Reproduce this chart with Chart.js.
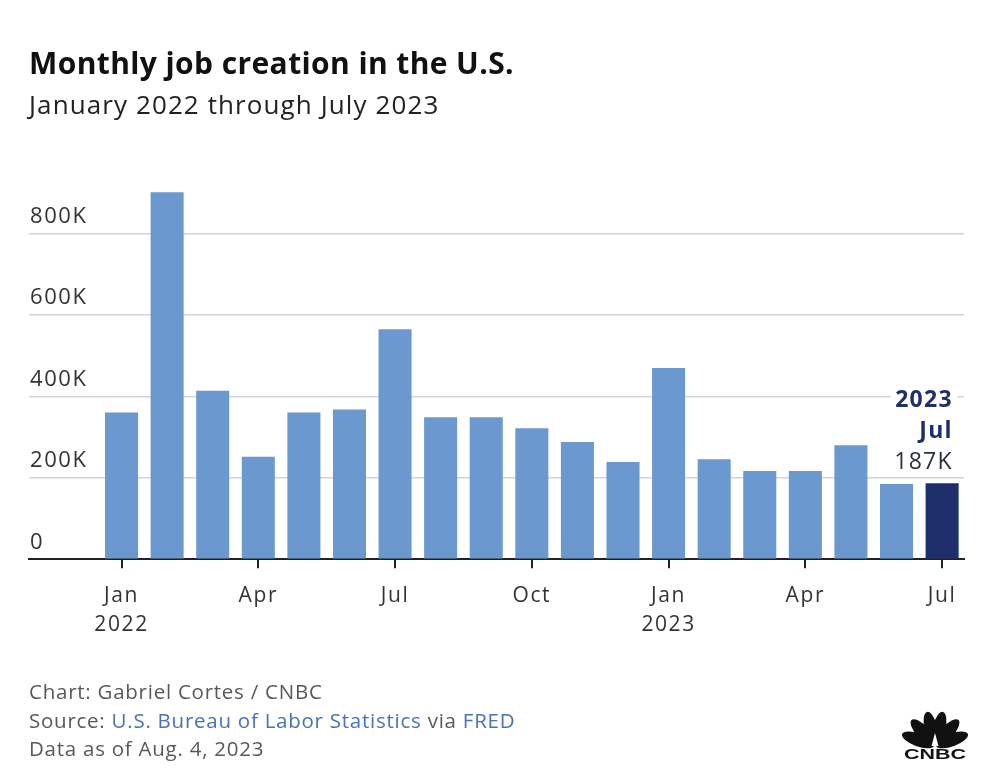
<!DOCTYPE html>
<html><head><meta charset="utf-8">
<script src="https://cdn.jsdelivr.net/npm/chart.js@4.4.0/dist/chart.umd.min.js"></script>
<style>
html,body{margin:0;padding:0;background:#fff;}
#wrap{position:relative;width:1007px;height:778px;overflow:hidden;font-family:"Open Sans",Lato,sans-serif;background:#fff;}
#chartBox{position:absolute;left:0;top:0;width:1007px;height:778px;}
.t{position:absolute;left:29px;white-space:nowrap;line-height:1.2;}
#title{top:45.4px;font-size:30px;font-weight:700;color:#111;letter-spacing:0.4px;}
#subtitle{top:89.3px;font-size:26px;color:#222;letter-spacing:1.1px;}
.f{font-size:20.5px;color:#595959;letter-spacing:0.75px;}
#f1{top:678.7px}#f2{top:708px}#f3{top:736.4px}
.lk{color:#4a72b8}
</style></head>
<body><div id="wrap">
<div id="chartBox"><canvas id="c"></canvas></div>
<div class="t" id="title">Monthly job creation in the U.S.</div>
<div class="t" id="subtitle">January 2022 through July 2023</div>
<div class="t f" id="f1">Chart: Gabriel Cortes / CNBC</div>
<div class="t f" id="f2">Source: <span class="lk">U.S. Bureau of Labor Statistics</span> via <span class="lk">FRED</span></div>
<div class="t f" id="f3">Data as of Aug. 4, 2023</div>
</div>
<script>
// months Jan 2022 .. Jul 2023
const months = ["Jan 2022","Feb 2022","Mar 2022","Apr 2022","May 2022","Jun 2022","Jul 2022","Aug 2022","Sep 2022","Oct 2022","Nov 2022","Dec 2022","Jan 2023","Feb 2023","Mar 2023","Apr 2023","May 2023","Jun 2023","Jul 2023"];
// jobs added, thousands
const jobs = [361, 902, 414, 252, 361, 368, 565, 349, 349, 322, 288, 239, 470, 246, 217, 217, 280, 185, 187];
const xTickPositions = [0, 3, 6, 9, 12, 15, 18];
const xTickLabels = [["Jan","2022"], "Apr", "Jul", "Oct", ["Jan","2023"], "Apr", "Jul"];
const yTickValues = [0, 200, 400, 600, 800];
const yTickLabels = ["0", "200K", "400K", "600K", "800K"];
const annotationLines = ["2023", "Jul"];

const BLUE = "#6a98cf", NAVY = "#1e2f6b", FONT = "'Open Sans', Lato, sans-serif";

const spacingPlugin = {
  id: "spacing",
  beforeDraw(chart) { chart.ctx.save(); chart.ctx.letterSpacing = "1.6px"; },
  beforeDatasetsDraw(chart) { chart.ctx.restore(); }
};

const annotationPlugin = {
  id: "lastLabel",
  afterDatasetsDraw(chart) {
    const meta = chart.getDatasetMeta(0);
    const bar = meta.data[meta.data.length - 1];
    const ctx = chart.ctx;
    const right = bar.x + bar.width / 2 - 7;
    const top = bar.y;
    const sp = 1.3;
    ctx.save();
    ctx.letterSpacing = sp + "px";
    ctx.textAlign = "right";
    ctx.textBaseline = "alphabetic";
    ctx.font = "700 23px " + FONT;
    const w = ctx.measureText(annotationLines[0]).width;
    ctx.fillStyle = "#fff";
    ctx.fillRect(right - w - 3, top - 98, w + 9, 26);
    ctx.fillStyle = NAVY;
    ctx.fillText(annotationLines[0], right + sp, top - 76);
    ctx.fillText(annotationLines[1], right + sp, top - 45.5);
    ctx.font = "400 23px " + FONT;
    ctx.fillStyle = "#2a3040";
    ctx.fillText(jobs[jobs.length - 1] + "K", right + sp, top - 14.5);
    ctx.restore();
  },
  afterDraw(chart) {
    // CNBC logo
    const ctx = chart.ctx;
    const px = 935, py = 746;
    ctx.save();
    ctx.fillStyle = "#111";
    const angles = [-70, -42, -13, 13, 42, 70];
    angles.forEach(a => {
      const r = a * Math.PI / 180;
      ctx.save();
      ctx.translate(px + Math.sin(r) * 18, py - Math.cos(r) * 18);
      ctx.rotate(r);
      ctx.beginPath();
      ctx.ellipse(0, 0, 6.5, 17, 0, 0, Math.PI * 2);
      ctx.fill();
      ctx.restore();
    });
    ctx.fillStyle = "#fff";
    ctx.beginPath();
    ctx.moveTo(px, py - 13); ctx.lineTo(px - 3.5, py); ctx.lineTo(px + 3.5, py); ctx.closePath(); ctx.fill();
    ctx.fillStyle = "#111";
    ctx.font = "700 15px 'Liberation Sans', Arial, sans-serif";
    ctx.textAlign = "center";
    ctx.textBaseline = "alphabetic";
    const tw = ctx.measureText("CNBC").width;
    ctx.translate(px, 759);
    ctx.scale(62 / tw, 1);
    ctx.fillText("CNBC", 0, 0);
    ctx.restore();
  }
};

new Chart(document.getElementById("c"), {
  type: "bar",
  data: {
    labels: months,
    datasets: [{
      data: jobs.map((v, i) => ({ x: i, y: v })),
      backgroundColor: c => c.dataIndex === jobs.length - 1 ? NAVY : BLUE,
      categoryPercentage: 1,
      barPercentage: 0.725,
      borderWidth: 0
    }]
  },
  options: {
    responsive: true,
    maintainAspectRatio: false,
    animation: false,
    layout: { padding: { left: 29, right: 43, top: 184.9, bottom: 0 } },
    plugins: { legend: { display: false }, tooltip: { enabled: false }, title: { display: false } },
    scales: {
      x: {
        type: "linear",
        offset: false,
        min: -2.03,
        max: 18.48,
        afterBuildTicks: s => { s.ticks = xTickPositions.map(v => ({ value: v })); },
        afterFit: s => { s.height = 778 - 559.3; },
        grid: { offset: false, drawOnChartArea: false, drawTicks: true, tickLength: 9, color: "#222", lineWidth: 2 },
        border: { display: true, color: "#222", width: 2 },
        ticks: {
          autoSkip: false, maxRotation: 0, padding: 13,
          color: "#333", font: { family: FONT, size: 21, lineHeight: 1.381 },
          callback: (v, i) => xTickLabels[i]
        }
      },
      y: {
        min: 0,
        max: 920,
        afterBuildTicks: s => { s.ticks = yTickValues.map(v => ({ value: v })); },
        afterFit: s => { s.width = 0; },
        grid: { drawTicks: false, color: c => c.tick && c.tick.value === 0 ? "rgba(0,0,0,0)" : "#d4d4d4", lineWidth: 1.5 },
        border: { display: false },
        ticks: {
          mirror: true, padding: 1, labelOffset: -17,
          color: "#333", font: { family: FONT, size: 22 },
          callback: (v, i) => yTickLabels[i]
        }
      }
    }
  },
  plugins: [spacingPlugin, annotationPlugin]
});
</script>
</body></html>
